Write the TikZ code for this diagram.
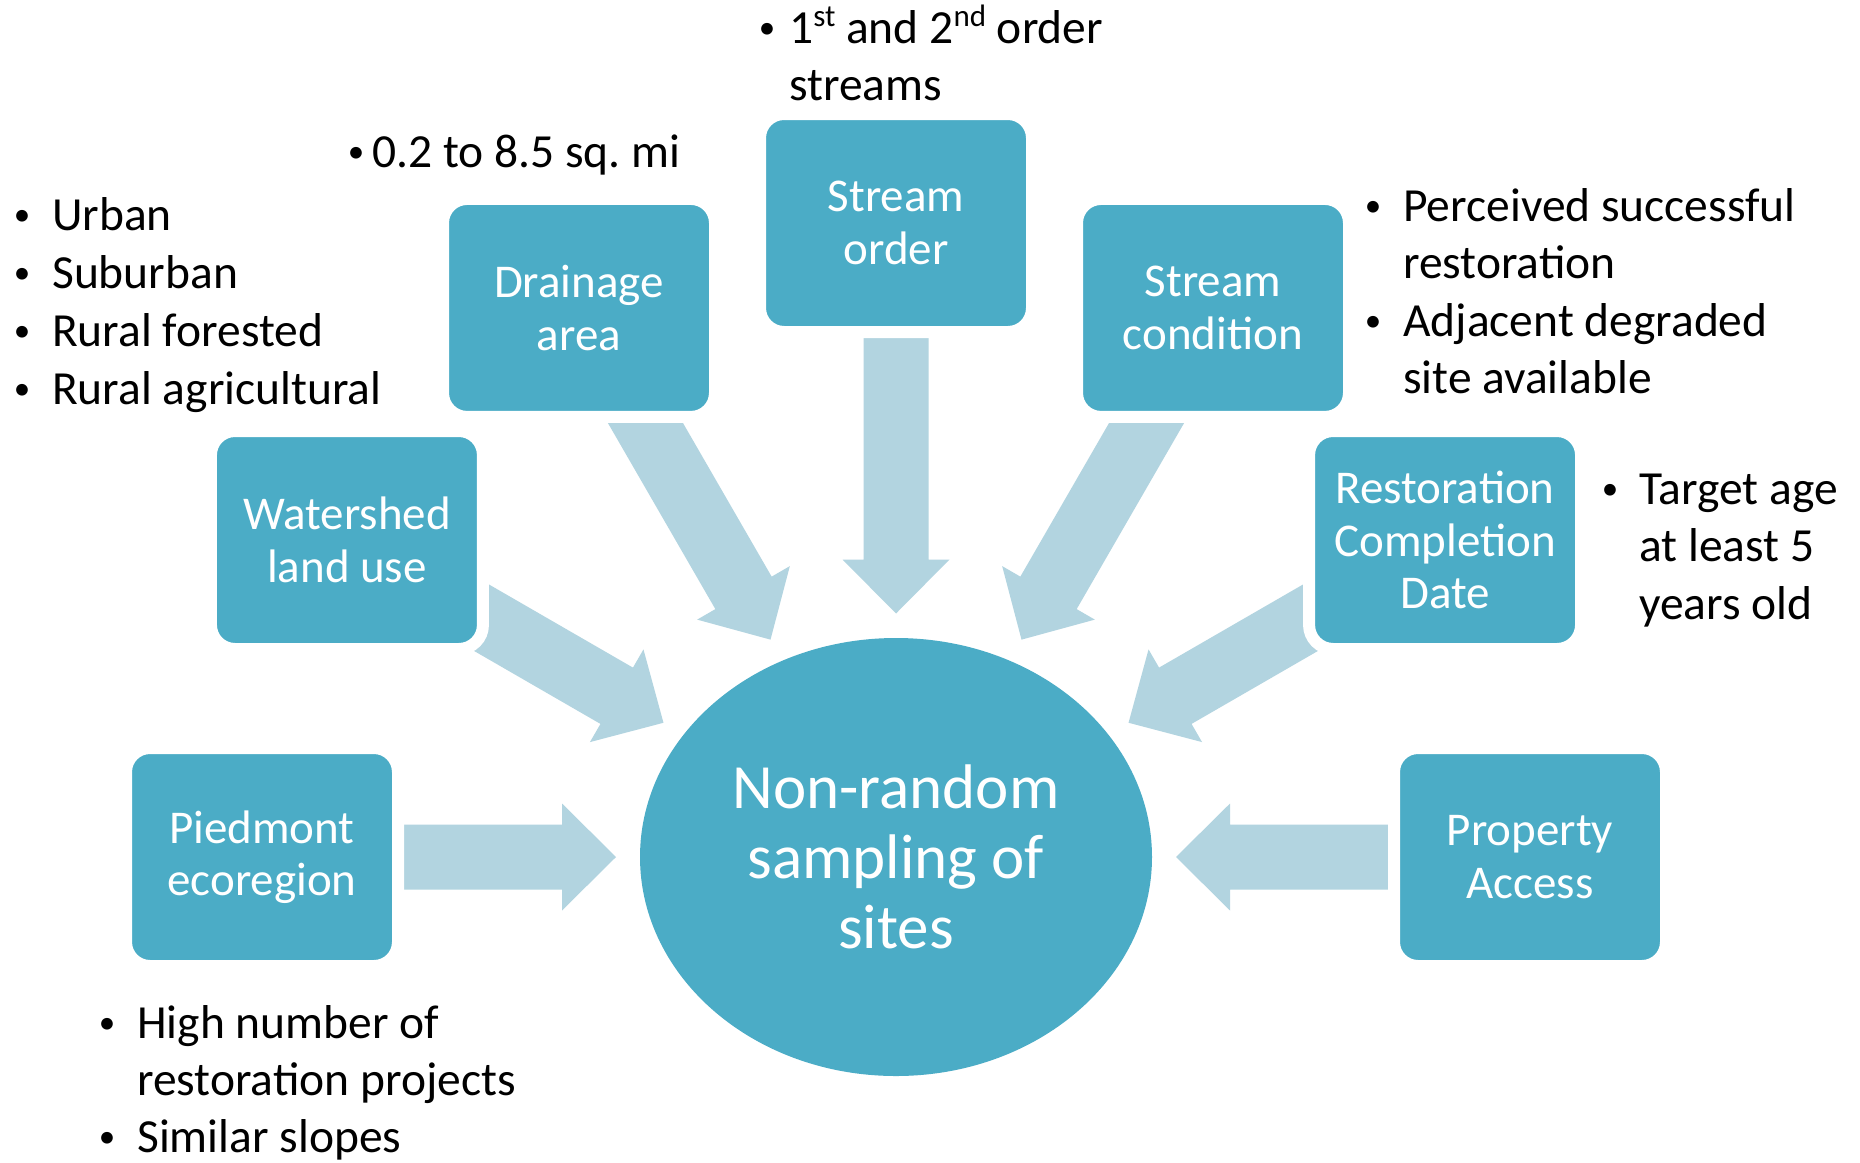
\documentclass[tikz,border=0pt]{standalone}
\usepackage{fontspec}
\setmainfont{Carlito}
\usetikzlibrary{calc,shapes.geometric}
\definecolor{boxteal}{HTML}{4BACC6}
\definecolor{arrowblue}{HTML}{B2D4E0}
\tikzset{
  factor/.style={rounded corners=24pt, fill=boxteal, draw=white, line width=12pt,
    minimum width=272pt, minimum height=218pt, inner sep=0pt,
    text=white, align=center, font=\fontsize{47}{52.5}\selectfont},
  hub/.style={ellipse, fill=boxteal, minimum width=512pt, minimum height=438pt,
    inner sep=0pt, text=white, align=center, font=\fontsize{63}{70}\selectfont},
  note/.style={anchor=base west, inner sep=0pt, font=\fontsize{47.5}{57.5}\selectfont},
  dot/.style={anchor=base, inner sep=0pt, font=\fontsize{33}{40}\selectfont},
  inflow/.style={fill=arrowblue},
}
\newcommand\supr[1]{\raisebox{17pt}{\fontsize{31}{31}\selectfont #1}}
\newcommand\bul{\raisebox{5pt}{•}}
\begin{document}
\begin{tikzpicture}[x=1pt,y=-1pt]
\useasboundingbox[fill=white] (0,0) rectangle (1860,1162);

\coordinate (c) at (896,857);

% block arrows pointing at the hub, one per factor direction
\foreach \a/\rt in {180/280, 210/268.5, 240/251, 270/243.5, 300/251, 330/268.5, 0/280}{
  \fill[inflow, shift={(c)}, rotate=-\a]
    (\rt,0) -- (\rt+54,53.5) -- (\rt+54,32.5) -- (560,32.5)
    -- (560,-32.5) -- (\rt+54,-32.5) -- (\rt+54,-53.5) -- cycle;
}

% factor boxes on a circle round the hub
\node[factor] (pied)  at ($(c)+(180:634)$) {Piedmont\\ecoregion};
\node[factor] (land)  at ($(c)+(210:634)$) {Watershed\\land use};
\node[factor] (drain) at ($(c)+(240:634)$) {Drainage\\area};
\node[factor] (order) at ($(c)+(270:634)$) {Stream\\order};
\node[factor] (cond)  at ($(c)+(300:634)$) {Stream\\condition};
\node[factor] (date)  at ($(c)+(330:634)$) {Restoration\\Completion\\Date};
\node[factor] (acc)   at ($(c)+(0:634)$)   {Property\\Access};

\node[hub] (hub) at (c) {Non-random\\sampling of\\sites};

% land use notes
\node[dot] (b1) at (22,230) {\bul};
\node[note] (t1) at (52,230) {Urban};
\node[dot] (b2) at (22,288) {\bul};
\node[note] (t2) at (52,288) {Suburban};
\node[dot] (b3) at (22,346) {\bul};
\node[note] (t3) at (52,346) {Rural forested};
\node[dot] (b4) at (22,404) {\bul};
\node[note] (t4) at (52,404) {Rural agricultural};

% drainage area note
\node[dot] (b5) at (356,167) {\bul};
\node[note] (t5) at (372,167) {0.2 to 8.5 sq.\ mi};

% stream order note
\node[dot] (b6) at (767,43) {\bul};
\node[note] (t6) at (789,43) {1\supr{st} and 2\supr{nd} order};
\node[note] (t7) at (789,100) {streams};

% stream condition notes
\node[dot] (b8) at (1373,221) {\bul};
\node[note] (t8) at (1403,221) {Perceived successful};
\node[note] (t9) at (1403,278.5) {restoration};
\node[dot] (b10) at (1373,336) {\bul};
\node[note] (t10) at (1403,336) {Adjacent degraded};
\node[note] (t11) at (1403,393.5) {site available};

% completion date note
\node[dot] (b12) at (1610,504) {\bul};
\node[note] (t12) at (1639,504) {Target age};
\node[note] (t13) at (1639,561.5) {at least 5};
\node[note] (t14) at (1639,619) {years old};

% ecoregion notes
\node[dot] (b15) at (107,1038) {\bul};
\node[note] (t15) at (137,1038) {High number of};
\node[note] (t16) at (137,1095) {restoration projects};
\node[dot] (b17) at (107,1152) {\bul};
\node[note] (t17) at (137,1152) {Similar slopes};
\end{tikzpicture}
\end{document}
